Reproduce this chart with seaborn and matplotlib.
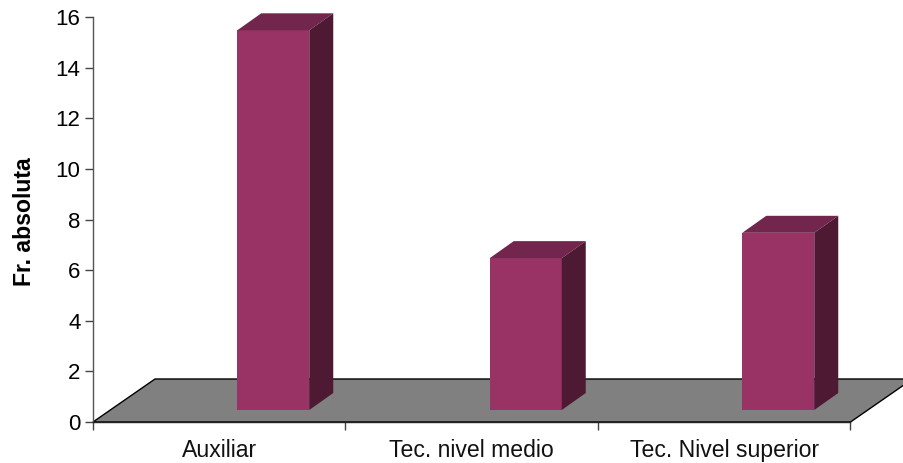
import matplotlib
matplotlib.use("Agg")
import matplotlib.pyplot as plt
from matplotlib.patches import Polygon
import pandas as pd
import seaborn as sns

categories = ["Auxiliar", "Tec. nivel medio", "Tec. Nivel superior"]
values = [15, 6, 7]
y_ticks = [0, 2, 4, 6, 8, 10, 12, 14, 16]

W, H = 904, 463
sns.set_theme(style="white")
plt.rcParams["font.family"] = ["Liberation Sans", "DejaVu Sans"]

fig = plt.figure(figsize=(W / 100, H / 100), dpi=100)
ax = fig.add_axes([93 / W, 1 - 422 / H, (850.5 - 93) / W, (422 - 17) / H])

df = pd.DataFrame({"category": categories, "value": values})
sns.barplot(data=df, x="category", y="value", color="#993366", saturation=1,
            width=72 / 252.5, ax=ax, zorder=3)
ax.set_xlim(-0.5, 2.5)
ax.set_ylim(0, 16)

# pixel lengths converted to data units for the oblique projection
ux = 1 / 252.5
uy = 16 / 405
bar_shift_x = 54 * ux
bar_lift = 12 * uy
depth_x = 24 * ux
depth_y = 17 * uy
floor_x = 62 * ux
floor_y = 43 * uy

# grey floor plane, clipped by the figure edge on the right
ax.add_patch(Polygon([(-0.5, 0), (-0.5 + floor_x, floor_y),
                      (2.5 + floor_x, floor_y), (2.5, 0)],
                     closed=True, facecolor="#808080", edgecolor="black",
                     linewidth=1.0, clip_on=False, zorder=1))

# shift each front face onto the floor and extrude its top and side
for patch, value in zip(ax.patches, values):
    patch.set_x(patch.get_x() + bar_shift_x)
    patch.set_y(bar_lift)
    patch.set_linewidth(0)
    x0 = patch.get_x()
    x1 = x0 + patch.get_width()
    y0 = bar_lift
    y1 = y0 + value
    ax.add_patch(Polygon([(x0, y1), (x0 + depth_x, y1 + depth_y),
                          (x1 + depth_x, y1 + depth_y), (x1, y1)],
                         closed=True, facecolor="#73264D", edgecolor="none",
                         clip_on=False, zorder=3))
    ax.add_patch(Polygon([(x1, y0), (x1 + depth_x, y0 + depth_y),
                          (x1 + depth_x, y1 + depth_y), (x1, y1)],
                         closed=True, facecolor="#4D1933", edgecolor="none",
                         clip_on=False, zorder=3))

sns.despine(ax=ax, top=True, right=True)
ax.spines["left"].set_color("#555555")
ax.spines["bottom"].set_color("#222222")
for side in ("left", "bottom"):
    ax.spines[side].set_linewidth(1.0)
    ax.spines[side].set_zorder(4)

ax.set_yticks(y_ticks)
ax.set_xticks([-0.5, 0.5, 1.5, 2.5], labels=[""] * 4)
ax.tick_params(axis="x", bottom=True, length=6, width=1, color="#444444")
ax.tick_params(axis="y", left=True, length=6, width=1, color="#444444",
               labelsize=16, pad=3, labelcolor="black")
for x, label in zip(range(3), categories):
    ax.annotate(label, xy=(x, 0), xycoords="data", xytext=(0, -17),
                textcoords="offset pixels", ha="center", va="top",
                fontsize=16.6, color="#111111")
ax.set_xlabel("")
ax.set_ylabel("")
fig.text(25 / W, 1 - 222 / H, "Fr. absoluta", rotation=90, ha="center",
         va="center", fontsize=16.6, fontweight="bold", color="black")

fig.savefig("out.png", dpi=100, facecolor="white")
